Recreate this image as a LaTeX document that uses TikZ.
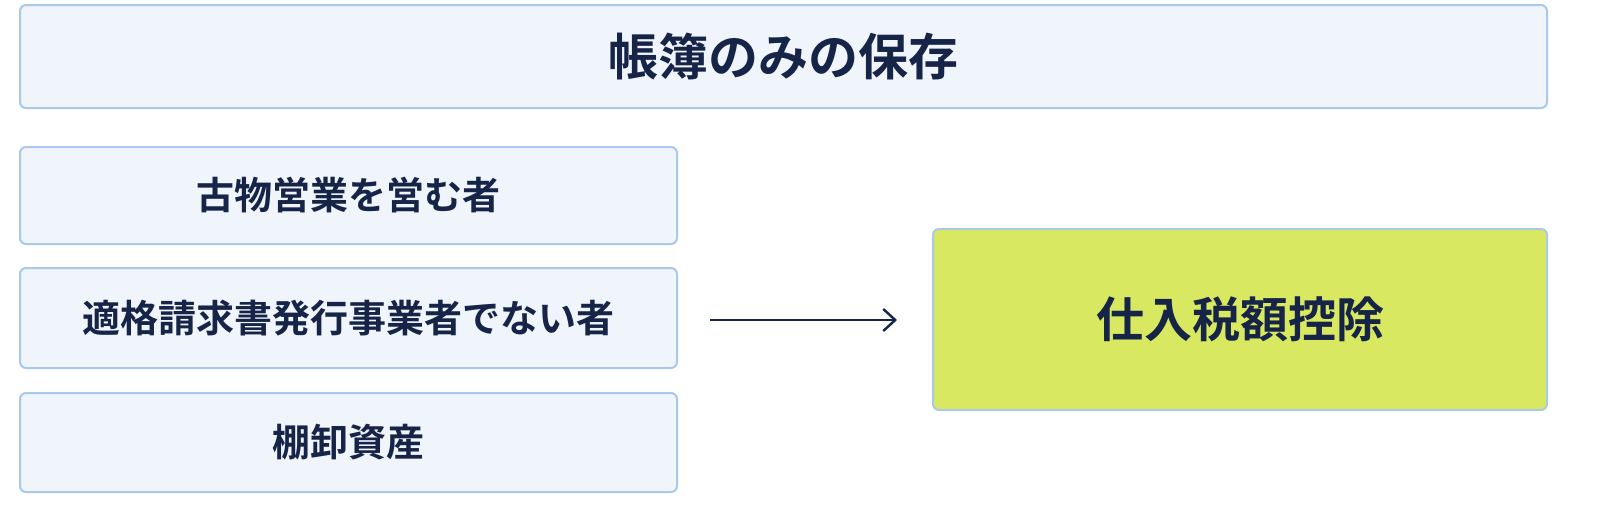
\documentclass[tikz,border=0pt]{standalone}
\usepackage{fontspec}
\usetikzlibrary{arrows.meta}
\newfontfamily\cjk{Noto Sans CJK JP}[BoldFont={* Bold}]
\usepackage{xcolor}
\definecolor{boxfill}{RGB}{240,244,251}
\definecolor{boxline}{RGB}{170,200,232}
\definecolor{navy}{RGB}{22,36,72}
\definecolor{lime}{RGB}{216,232,96}
\begin{document}
\begin{tikzpicture}[x=0.5pt,y=0.5pt,yscale=-1,
    box/.style={draw=boxline,fill=boxfill,line width=1pt,rounded corners=3pt,text=navy,font=\cjk\bfseries},
    ]
    % Title
    \node[box,minimum width=763.5pt,minimum height=51.5pt,font=\cjk\bfseries\fontsize{25}{30}\selectfont] (title) at (783.5,56.5) {帳簿のみの保存};

    % Left items
    \node[box,minimum width=328.5pt,minimum height=48.5pt,font=\cjk\bfseries\fontsize{19}{24}\selectfont] (koubutsu) at (348.5,195.5) {古物営業を営む者};
    \node[box,minimum width=328.5pt,minimum height=50pt,font=\cjk\bfseries\fontsize{19}{24}\selectfont] (tekikaku) at (348.5,318) {適格請求書発行事業者でない者};
    \node[box,minimum width=328.5pt,minimum height=49.5pt,font=\cjk\bfseries\fontsize{19}{24}\selectfont] (tanaoroshi) at (348.5,442.5) {棚卸資産};

    % Result
    \node[box,fill=lime,minimum width=307pt,minimum height=90.5pt,font=\cjk\bfseries\fontsize{24}{29}\selectfont] (koujo) at (1240,319.5) {仕入税額控除};

    % Arrow
    \coordinate (a0) at (710,320);
    \coordinate (a1) at (897,320);
    \draw[navy,line width=1.2pt,-{Straight Barb[length=6pt,width=11pt]}] (a0) -- (a1);

    \pgfresetboundingbox
    \path[use as bounding box] (0,0) rectangle (1600,509);
\end{tikzpicture}
\end{document}
